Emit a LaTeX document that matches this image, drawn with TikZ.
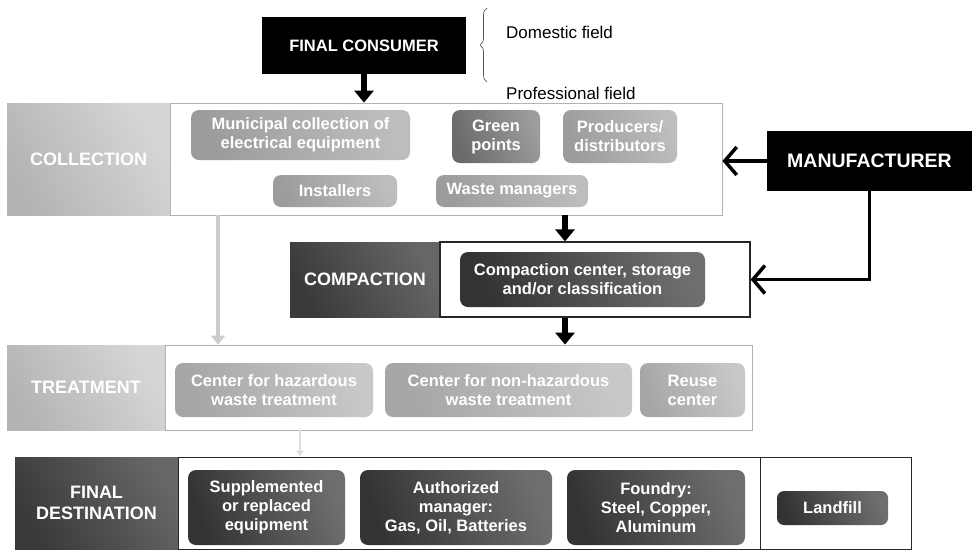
\documentclass[tikz,border=0pt]{standalone}
\usepackage{fontspec}
\setmainfont{Liberation Sans}
\usetikzlibrary{arrows.meta,decorations.pathreplacing}

\definecolor{labLight}{HTML}{B4B4B4}
\definecolor{labLightB}{HTML}{D6D6D6}
\definecolor{labDark}{HTML}{3A3A3A}
\definecolor{labDarkB}{HTML}{666666}
\definecolor{colSub}{HTML}{9C9C9C}
\definecolor{colSubB}{HTML}{BDBDBD}
\definecolor{greenSub}{HTML}{6A6A6A}
\definecolor{treatSub}{HTML}{A6A6A6}
\definecolor{treatSubB}{HTML}{C8C8C8}
\definecolor{darkSub}{HTML}{333333}
\definecolor{darkSubB}{HTML}{6E6E6E}

\tikzset{
  blackbox/.style={fill=black, text=white, inner sep=0pt, minimum width=#1},
  stagefont/.style={font=\fontsize{18}{21}\selectfont\bfseries},
  lablight/.style={left color=labLight, right color=labLightB, shading angle=120,
    text=white, stagefont, inner sep=0pt, align=center},
  labdark/.style={left color=labDark, right color=labDarkB, shading angle=120,
    text=white, stagefont, inner sep=0pt, align=center},
  frame/.style={draw=gray!60, line width=0.8pt, fill=white, inner sep=0pt},
  darkframe/.style={draw=black!85, line width=1.2pt, fill=white, inner sep=0pt},
  subbox/.style={rounded corners=8pt, text=white, inner sep=0pt, align=center,
    font=\fontsize{16.5}{19}\selectfont\bfseries},
  colsub/.style={subbox, left color=colSub, right color=colSubB, shading angle=110},
  greensub/.style={subbox, left color=greenSub, right color=colSub, shading angle=110},
  treatsub/.style={subbox, left color=treatSub, right color=treatSubB, shading angle=110},
  darksub/.style={subbox, left color=darkSub, right color=darkSubB, shading angle=110},
  bigarrow/.style={line width=6pt, black, -{Triangle[width=19pt,length=12pt]}},
  greyarrow/.style={line width=4pt, gray!40, -{Triangle[width=14pt,length=9pt]}},
  faintarrow/.style={line width=2pt, gray!25, -{Triangle[width=8pt,length=6pt]}},
  barbarrow/.style={line width=3.5pt, black, -{Straight Barb[length=12pt,width=28pt]}},
  plain/.style={font=\fontsize{17}{19}\selectfont, anchor=west, inner sep=0pt}
}

\begin{document}
\begin{tikzpicture}[x=1pt,y=-1pt]
\useasboundingbox (0,0) rectangle (972,558);

% ---------- final consumer and its two fields ----------
\node[blackbox=204pt, minimum height=57pt, font=\fontsize{16.5}{19}\selectfont\bfseries]
  (fc) at (364,45.5) {FINAL CONSUMER};
\coordinate (brB) at (487,82);
\coordinate (brT) at (487,8);
\draw[black!65, line width=0.7pt, decorate, decoration={brace, amplitude=7pt}] (brB) -- (brT);
\node[plain] (dom) at (506,32) {Domestic field};
\node[plain] (prof) at (506,93) {Professional field};

% ---------- collection ----------
\node[lablight, minimum width=163pt, minimum height=112pt] (colLab) at (88.5,159) {COLLECTION};
\node[frame, minimum width=552pt, minimum height=112pt] (colBox) at (446,159) {};
\node[colsub, minimum width=219pt, minimum height=50pt] (mun) at (300.5,135)
  {Municipal collection of\\electrical equipment};
\node[greensub, minimum width=88pt, minimum height=53pt] (green) at (496,136.5) {Green\\points};
\node[colsub, minimum width=114pt, minimum height=53pt] (prod) at (620,136.5) {Producers/\\distributors};
\node[colsub, minimum width=124pt, minimum height=32pt] (inst) at (335,191) {Installers};
\node[colsub, minimum width=152pt, minimum height=32pt] (waste) at (512,191) {Waste managers};

% ---------- manufacturer ----------
\node[blackbox=205pt, minimum height=60pt, font=\fontsize{19.5}{22}\selectfont\bfseries]
  (man) at (869.5,161) {MANUFACTURER};

% ---------- compaction ----------
\node[labdark, minimum width=150pt, minimum height=75pt] (compLab) at (365,279.5) {COMPACTION};
\node[darkframe, minimum width=310pt, minimum height=75pt] (compBox) at (595,279.5) {};
\node[darksub, minimum width=245pt, minimum height=55pt] (comp) at (582.5,279.5)
  {Compaction center, storage\\and/or classification};

% ---------- treatment ----------
\node[lablight, minimum width=158pt, minimum height=85pt] (treatLab) at (86,387.5) {TREATMENT};
\node[frame, minimum width=587pt, minimum height=85pt] (treatBox) at (458.5,387.5) {};
\node[treatsub, minimum width=198pt, minimum height=54pt] (haz) at (274,390)
  {Center for hazardous\\waste treatment};
\node[treatsub, minimum width=247pt, minimum height=54pt] (nonhaz) at (508.5,390)
  {Center for non-hazardous\\waste treatment};
\node[treatsub, minimum width=105pt, minimum height=54pt] (reuse) at (692.5,390) {Reuse\\center};

% ---------- final destination ----------
\node[labdark, minimum width=163pt, minimum height=92pt] (finLab) at (96.5,503) {FINAL\\DESTINATION};
\node[darkframe, line width=1pt, minimum width=582pt, minimum height=92pt] (finBox) at (469,503) {};
\node[darkframe, line width=1pt, minimum width=151pt, minimum height=92pt] (landBox) at (835.5,503) {};
\node[darksub, minimum width=157pt, minimum height=75pt] (supp) at (266.5,507.5)
  {Supplemented\\or replaced\\equipment};
\node[darksub, minimum width=192pt, minimum height=75pt] (auth) at (456,507.5)
  {Authorized\\manager:\\Gas, Oil, Batteries};
\node[darksub, minimum width=178pt, minimum height=75pt] (found) at (656,507.5)
  {Foundry:\\Steel, Copper,\\Aluminum};
\node[darksub, rounded corners=7pt, minimum width=111pt, minimum height=34pt] (land) at (832.5,508) {Landfill};

% ---------- flows ----------
\coordinate (xc) at (565,0);
\coordinate (xg) at (218,0);
\coordinate (xf) at (300,0);
\draw[bigarrow] (fc.south) -- (fc.south |- colBox.north);
\draw[barbarrow] (man.west) -- (colBox.east |- man.west);
\draw[barbarrow] (man.south) |- (compBox.east);
\draw[bigarrow] (colBox.south -| xc) -- (compBox.north -| xc);
\draw[bigarrow] (compBox.south -| xc) -- (treatBox.north -| xc);
\draw[greyarrow] (colLab.south -| xg) -- (treatBox.north -| xg);
\draw[faintarrow] (treatBox.south -| xf) -- (finBox.north -| xf);
\end{tikzpicture}
\end{document}
